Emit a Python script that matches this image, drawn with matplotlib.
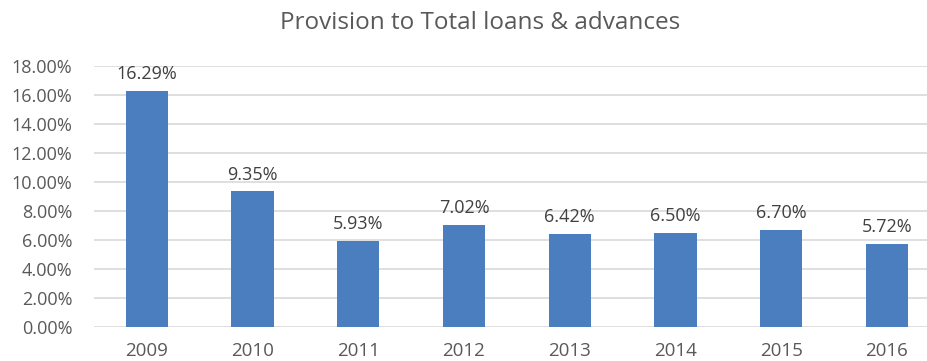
import matplotlib
matplotlib.use("Agg")
import matplotlib.pyplot as plt
from matplotlib.ticker import FuncFormatter

years = ["2009", "2010", "2011", "2012", "2013", "2014", "2015", "2016"]
provision_pct = [16.29, 9.35, 5.93, 7.02, 6.42, 6.50, 6.70, 5.72]
title = "Provision to Total loans & advances"

plt.rcParams["font.family"] = ["Open Sans", "DejaVu Sans"]
text_color = "#595959"

fig = plt.figure(figsize=(9.27, 3.61), dpi=100)
ax = fig.add_axes([94 / 927, 34 / 361, (927 - 94) / 927, (327 - 66) / 361])

x = range(len(years))
ax.bar(x, provision_pct, width=0.4, color="#4A7EBF", zorder=3)

for xi, v in zip(x, provision_pct):
    ax.annotate(f"{v:.2f}%", (xi, v), xytext=(0, 8.5), textcoords="offset points",
                ha="center", va="baseline", fontsize=13, color="#404040")

ax.set_xlim(-0.5, 7.38)
ax.set_ylim(0, 18)
ax.set_yticks([i * 2 for i in range(10)])
ax.yaxis.set_major_formatter(FuncFormatter(lambda v, p: f"{v:.2f}%"))
ax.set_xticks(list(x))
ax.set_xticklabels(years)
ax.grid(axis="y", color="#D9D9D9", linewidth=1.2, zorder=0)
for s in ax.spines.values():
    s.set_visible(False)
ax.tick_params(axis="both", length=0, colors=text_color)
ax.tick_params(axis="y", pad=15.5, labelsize=13)
ax.tick_params(axis="x", pad=10.5, labelsize=13.5)

fig.text(480 / 927, 1 - 23 / 361, title, ha="center", va="center",
         fontsize=17.5, color=text_color)

fig.savefig("out.png", dpi=100)
